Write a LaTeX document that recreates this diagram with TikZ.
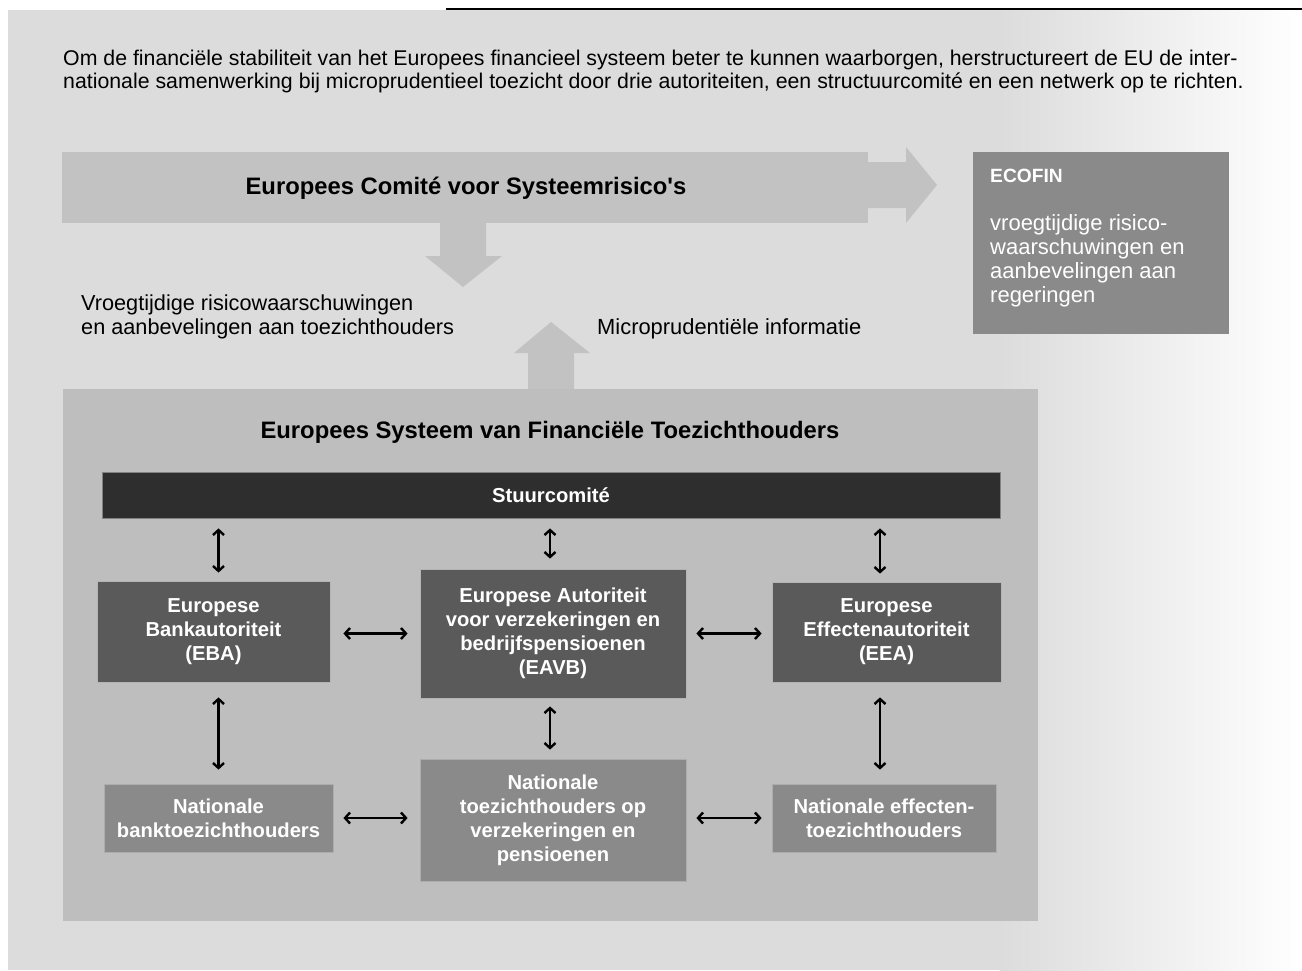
\documentclass[tikz,border=0pt]{standalone}
\usepackage{fontspec}
\setmainfont{Liberation Sans}
\usetikzlibrary{positioning, arrows.meta, shapes}
\definecolor{achtergrond}{RGB}{220,220,220}
\definecolor{pijlgrijs}{RGB}{194,194,194}
\definecolor{esfsgrijs}{RGB}{190,190,190}
\definecolor{donkergrijs}{RGB}{90,90,90}
\definecolor{middengrijs}{RGB}{138,138,138}
\definecolor{stuurzwart}{RGB}{46,46,46}

\begin{document}
\begin{tikzpicture}[x=1pt, y=-1pt,
    autbox/.style={fill=donkergrijs, draw=white!55!donkergrijs, line width=0.8pt, text=white,
        font=\fontsize{20.2}{24}\selectfont\bfseries, align=center, inner sep=0pt},
    natbox/.style={autbox, fill=middengrijs, draw=white!30!middengrijs},
    dbl/.style={{Straight Barb[length=5pt,width=11pt]}-{Straight Barb[length=5pt,width=11pt]},
        line width=2.4pt, shorten <=10pt, shorten >=10pt},
    blokpijl/.style={fill=pijlgrijs, draw=none}]
    \useasboundingbox (0,0) rectangle (1302,970);

    % Background with fade to the right
    \fill[achtergrond] (8,10) rectangle (1000,970);
    \shade[left color=achtergrond, right color=white] (999.5,10) rectangle (1302,970);
    \draw[line width=1.5pt] (446,9) -- (1302,9);

    % Intro text
    \node[anchor=west, align=left, inner sep=0pt, font=\fontsize{21.3}{23}\selectfont] (intro) at (63,71)
        {Om de financiële stabiliteit van het Europees financieel systeem beter te kunnen waarborgen, herstructureert de EU de inter-\\
         nationale samenwerking bij microprudentieel toezicht door drie autoriteiten, een structuurcomité en een netwerk op te richten.};

    % Europees Comite voor Systeemrisico's (block arrow)
    \fill[blokpijl] (62,152) rectangle (868,223);
    \fill[blokpijl] (867,162) -- (906,162) -- (906,147) -- (937,185) -- (906,223) -- (906,208) -- (867,208) -- cycle;
    \node[font=\fontsize{23.8}{25}\selectfont\bfseries, inner sep=0pt] (ecsr) at (466,188)
        {Europees Comité voor Systeemrisico\textquotesingle s};
    \fill[blokpijl] (440,222) -- (440,256) -- (425,256) -- (463,287) -- (502,256) -- (486,256) -- (486,222) -- cycle;
    \fill[blokpijl] (528,390) -- (528,353) -- (514,353) -- (551,322) -- (590,353) -- (574,353) -- (574,390) -- cycle;

    \node[anchor=west, align=left, inner sep=0pt, font=\fontsize{21.7}{24}\selectfont] (waarsch) at (81,317)
        {Vroegtijdige risicowaarschuwingen\\ en aanbevelingen aan toezichthouders};
    \node[anchor=west, inner sep=0pt, font=\fontsize{21.9}{24}\selectfont] (micro) at (597,329)
        {Microprudentiële informatie};

    % ECOFIN
    \node[fill=middengrijs, minimum width=256pt, minimum height=182pt, inner sep=0pt] (ecofin) at (1101,243) {};
    \node[anchor=west, inner sep=0pt, text=white, font=\fontsize{19.2}{24}\selectfont\bfseries] (ecofintitel) at (990,176) {ECOFIN};
    \node[anchor=west, align=left, inner sep=0pt, text=white, font=\fontsize{22}{24}\selectfont] (ecofintekst) at (990,261)
        {vroegtijdige risico-\\ waarschuwingen en\\ aanbevelingen aan\\ regeringen};

    % Europees Systeem van Financiele Toezichthouders
    \node[fill=esfsgrijs, minimum width=975pt, minimum height=532pt, inner sep=0pt] (esfs) at (550.5,655) {};
    \node[font=\fontsize{23.8}{25}\selectfont\bfseries, inner sep=0pt] (esfstitel) at (550,432)
        {Europees Systeem van Financiële Toezichthouders};
    \node[autbox, fill=stuurzwart, draw=white!40!stuurzwart, minimum width=898pt, minimum height=46pt] (stuur) at (551,495) {Stuurcomité};

    \node[autbox, minimum width=233pt, minimum height=101pt] (eba) at (213.5,631.5)
        {Europese\\ Bankautoriteit\\ (EBA)};
    \node[autbox, minimum width=266pt, minimum height=129pt] (eavb) at (553,633.5)
        {Europese Autoriteit\\ voor verzekeringen en\\ bedrijfspensioenen\\ (EAVB)};
    \node[autbox, minimum width=229pt, minimum height=100pt] (eea) at (886.5,632)
        {Europese\\ Effectenautoriteit\\ (EEA)};
    \node[natbox, minimum width=229pt, minimum height=68pt] (natbank) at (218.5,818)
        {Nationale\\ banktoezichthouders};
    \node[natbox, minimum width=266pt, minimum height=122pt] (natverz) at (553,820)
        {Nationale\\ toezichthouders op\\ verzekeringen en\\ pensioenen};
    \node[natbox, minimum width=224pt, minimum height=68pt] (nateff) at (884,818)
        {Nationale effecten-\\ toezichthouders};

    % Verbindingen
    \draw[dbl, shorten >=8pt] (stuur.south -| natbank) -- (eba.north -| natbank);
    \draw[dbl] (stuur.south -| 550,0) -- (eavb.north -| 550,0);
    \draw[dbl, shorten >=8pt] (stuur.south -| 880,0) -- (eea.north -| 880,0);
    \draw[dbl, shorten <=15pt, shorten >=14pt] (eba.south -| natbank) -- (natbank.north);
    \draw[dbl, shorten <=8pt, shorten >=9pt] (eavb.south -| 550,0) -- (natverz.north -| 550,0);
    \draw[dbl, shorten <=15pt, shorten >=14pt] (eea.south -| 880,0) -- (nateff.north -| 880,0);
    \draw[dbl, shorten <=13pt, shorten >=12pt] (eba.east |- eavb) -- (eavb.west);
    \draw[dbl] (eavb.east) -- (eea.west |- eavb);
    \draw[dbl, shorten <=10pt, shorten >=12pt] (natbank.east) -- (natverz.west |- natbank);
    \draw[dbl] (natverz.east |- natbank) -- (nateff.west);
\end{tikzpicture}
\end{document}
